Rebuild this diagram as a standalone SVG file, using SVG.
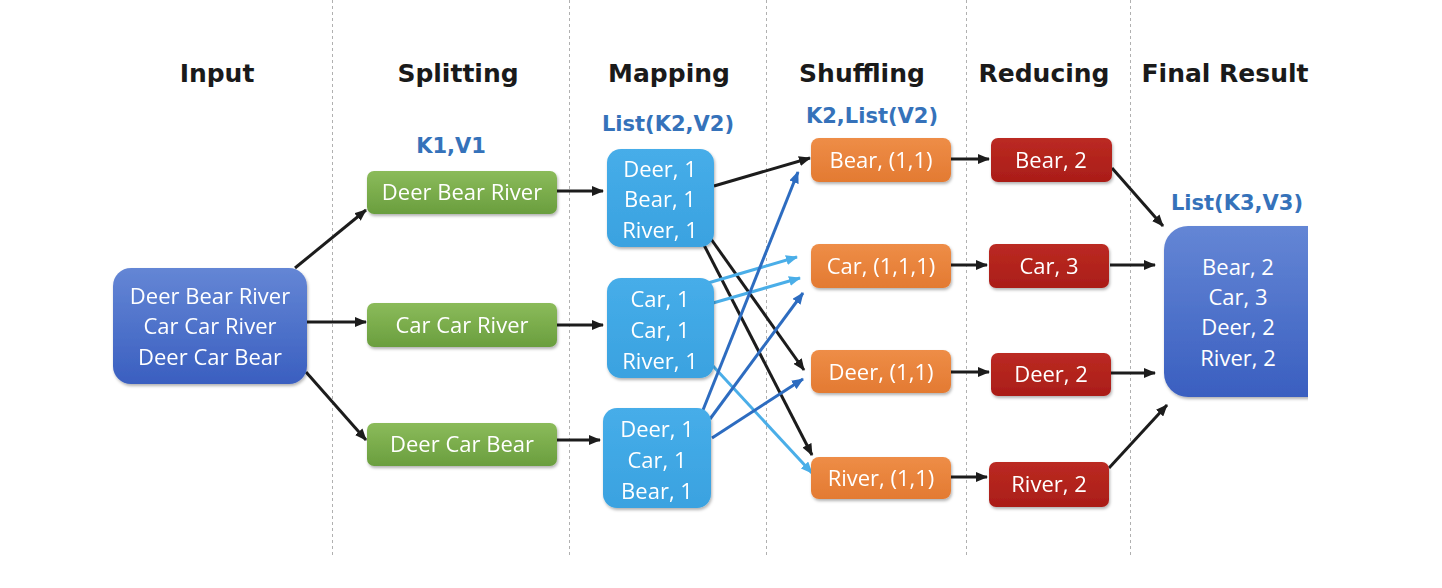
<svg xmlns="http://www.w3.org/2000/svg" width="1442" height="588" viewBox="0 0 1442 588">
<defs>
<linearGradient id="gBlue" x1="0" y1="0" x2="0" y2="1"><stop offset="0" stop-color="#6486d5"/><stop offset="1" stop-color="#3a5fc0"/></linearGradient>
<linearGradient id="gGreen" x1="0" y1="0" x2="0" y2="1"><stop offset="0" stop-color="#8bbb5a"/><stop offset="1" stop-color="#6a9e3e"/></linearGradient>
<linearGradient id="gSky" x1="0" y1="0" x2="0" y2="1"><stop offset="0" stop-color="#46ade9"/><stop offset="1" stop-color="#3aa2e0"/></linearGradient>
<linearGradient id="gOrange" x1="0" y1="0" x2="0" y2="1"><stop offset="0" stop-color="#ee8d47"/><stop offset="1" stop-color="#e37a32"/></linearGradient>
<linearGradient id="gRed" x1="0" y1="0" x2="0" y2="1"><stop offset="0" stop-color="#bb2a22"/><stop offset="1" stop-color="#aa1d18"/></linearGradient>
<filter id="sh" x="-10%" y="-10%" width="130%" height="140%"><feDropShadow dx="1" dy="2" stdDeviation="1.5" flood-color="#000" flood-opacity="0.3"/></filter>
<clipPath id="clipFinal"><rect x="1150" y="200" width="158" height="220"/></clipPath>
<marker id="aK" viewBox="0 0 12 10" refX="11" refY="5" markerWidth="12" markerHeight="10" markerUnits="userSpaceOnUse" orient="auto"><path d="M0,0 L12,5 L0,10 Z" fill="#1c1c1c"/></marker>
<marker id="aL" viewBox="0 0 12 10" refX="11" refY="5" markerWidth="12" markerHeight="10" markerUnits="userSpaceOnUse" orient="auto"><path d="M0,0 L12,5 L0,10 Z" fill="#4aaee8"/></marker>
<marker id="aD" viewBox="0 0 12 10" refX="11" refY="5" markerWidth="12" markerHeight="10" markerUnits="userSpaceOnUse" orient="auto"><path d="M0,0 L12,5 L0,10 Z" fill="#2d6cc0"/></marker>
</defs>
<style>
.hdr{font-family:"DejaVu Sans",Verdana,sans-serif;font-weight:bold;font-size:25px;fill:#1a1a1a;text-anchor:middle}
.kv{font-family:"DejaVu Sans",Verdana,sans-serif;font-weight:bold;font-size:21px;fill:#3572ba;text-anchor:middle}
.t{font-family:"Open Sans","Liberation Sans",sans-serif;font-size:22px;fill:#ffffff;text-anchor:middle}
.dash{stroke:#b0b0b0;stroke-width:1;stroke-dasharray:3,3}
.ck{stroke:#1c1c1c;stroke-width:3;fill:none;marker-end:url(#aK)}
.cl{stroke:#4aaee8;stroke-width:3;fill:none;marker-end:url(#aL)}
.cd{stroke:#2d6cc0;stroke-width:3;fill:none;marker-end:url(#aD)}
</style>
<rect width="1442" height="588" fill="#ffffff"/>
<g id="columns">
<line class="dash" x1="332.5" y1="0" x2="332.5" y2="558"/>
<line class="dash" x1="569.5" y1="0" x2="569.5" y2="558"/>
<line class="dash" x1="766.5" y1="0" x2="766.5" y2="558"/>
<line class="dash" x1="966.5" y1="0" x2="966.5" y2="558"/>
<line class="dash" x1="1130.5" y1="0" x2="1130.5" y2="558"/>
</g>
<g id="headers">
<text class="hdr" x="217" y="82">Input</text>
<text class="hdr" x="458" y="82">Splitting</text>
<text class="hdr" x="669" y="82">Mapping</text>
<text class="hdr" x="862" y="82">Shuffling</text>
<text class="hdr" x="1044" y="82">Reducing</text>
<text class="hdr" x="1225" y="82">Final Result</text>
<text class="kv" x="451" y="153">K1,V1</text>
<text class="kv" x="668" y="131">List(K2,V2)</text>
<text class="kv" x="872" y="123">K2,List(V2)</text>
<text class="kv" x="1237" y="210">List(K3,V3)</text>
</g>
<g id="connectors">
<line class="ck" x1="295" y1="268" x2="366" y2="210"/>
<line class="ck" x1="307" y1="322" x2="366" y2="322"/>
<line class="ck" x1="306" y1="372" x2="366" y2="440"/>
<line class="ck" x1="557" y1="191" x2="603" y2="191"/>
<line class="ck" x1="557" y1="325" x2="603" y2="325"/>
<line class="ck" x1="557" y1="440" x2="600" y2="440"/>
<line class="ck" x1="714" y1="186" x2="810" y2="158"/>
<line class="ck" x1="711" y1="239" x2="804" y2="370"/>
<line class="ck" x1="703" y1="243" x2="812" y2="455"/>
<line class="cl" x1="708" y1="283" x2="797" y2="257"/>
<line class="cl" x1="713" y1="303" x2="800" y2="278"/>
<line class="cl" x1="713" y1="366" x2="812" y2="473"/>
<line class="cd" x1="703" y1="410" x2="798" y2="172"/>
<line class="cd" x1="710" y1="419" x2="803" y2="293"/>
<line class="cd" x1="712" y1="438" x2="803" y2="379"/>
<line class="ck" x1="950" y1="159" x2="989" y2="159"/>
<line class="ck" x1="950" y1="265" x2="987" y2="265"/>
<line class="ck" x1="950" y1="372" x2="989" y2="372"/>
<line class="ck" x1="950" y1="477" x2="987" y2="477"/>
<line class="ck" x1="1112" y1="168" x2="1163" y2="226"/>
<line class="ck" x1="1110" y1="265" x2="1155" y2="265"/>
<line class="ck" x1="1110" y1="373" x2="1155" y2="373"/>
<line class="ck" x1="1109" y1="468" x2="1167" y2="405"/>
</g>
<g id="input" filter="url(#sh)">
<rect x="113" y="268" width="194" height="116" rx="18" fill="url(#gBlue)"/>
<text class="t" x="210" y="304">Deer Bear River</text>
<text class="t" x="210" y="334">Car Car River</text>
<text class="t" x="210" y="365">Deer Car Bear</text>
</g>
<g id="split1" filter="url(#sh)"><rect x="367" y="171" width="190" height="43" rx="7" fill="url(#gGreen)"/><text class="t" x="462" y="200">Deer Bear River</text></g>
<g id="split2" filter="url(#sh)"><rect x="367" y="303" width="190" height="44" rx="7" fill="url(#gGreen)"/><text class="t" x="462" y="333">Car Car River</text></g>
<g id="split3" filter="url(#sh)"><rect x="367" y="423" width="190" height="43" rx="7" fill="url(#gGreen)"/><text class="t" x="462" y="452">Deer Car Bear</text></g>
<g id="map1" filter="url(#sh)"><rect x="607" y="149" width="107" height="98" rx="14" fill="url(#gSky)"/>
<text class="t" x="660" y="177">Deer, 1</text><text class="t" x="660" y="207">Bear, 1</text><text class="t" x="660" y="238">River, 1</text></g>
<g id="map2" filter="url(#sh)"><rect x="607" y="278" width="107" height="100" rx="14" fill="url(#gSky)"/>
<text class="t" x="660" y="307">Car, 1</text><text class="t" x="660" y="338">Car, 1</text><text class="t" x="660" y="369">River, 1</text></g>
<g id="map3" filter="url(#sh)"><rect x="603" y="408" width="108" height="100" rx="14" fill="url(#gSky)"/>
<text class="t" x="657" y="437">Deer, 1</text><text class="t" x="657" y="468">Car, 1</text><text class="t" x="657" y="499">Bear, 1</text></g>
<g id="shuf1" filter="url(#sh)"><rect x="811" y="138" width="140" height="44" rx="8" fill="url(#gOrange)"/><text class="t" x="881" y="168">Bear, (1,1)</text></g>
<g id="shuf2" filter="url(#sh)"><rect x="811" y="244" width="140" height="44" rx="8" fill="url(#gOrange)"/><text class="t" x="881" y="274">Car, (1,1,1)</text></g>
<g id="shuf3" filter="url(#sh)"><rect x="811" y="350" width="140" height="43" rx="8" fill="url(#gOrange)"/><text class="t" x="881" y="380">Deer, (1,1)</text></g>
<g id="shuf4" filter="url(#sh)"><rect x="811" y="457" width="140" height="42" rx="8" fill="url(#gOrange)"/><text class="t" x="881" y="486">River, (1,1)</text></g>
<g id="red1" filter="url(#sh)"><rect x="991" y="138" width="121" height="44" rx="7" fill="url(#gRed)"/><text class="t" x="1051" y="168">Bear, 2</text></g>
<g id="red2" filter="url(#sh)"><rect x="989" y="244" width="120" height="44" rx="7" fill="url(#gRed)"/><text class="t" x="1049" y="274">Car, 3</text></g>
<g id="red3" filter="url(#sh)"><rect x="991" y="353" width="120" height="43" rx="7" fill="url(#gRed)"/><text class="t" x="1051" y="382">Deer, 2</text></g>
<g id="red4" filter="url(#sh)"><rect x="989" y="462" width="120" height="45" rx="7" fill="url(#gRed)"/><text class="t" x="1049" y="492">River, 2</text></g>
<g id="final">
<g clip-path="url(#clipFinal)"><rect x="1164" y="226" width="170" height="171" rx="24" fill="url(#gBlue)" filter="url(#sh)"/></g>
<text class="t" x="1238" y="275">Bear, 2</text>
<text class="t" x="1238" y="305">Car, 3</text>
<text class="t" x="1238" y="335">Deer, 2</text>
<text class="t" x="1238" y="366">River, 2</text>
</g>
</svg>
